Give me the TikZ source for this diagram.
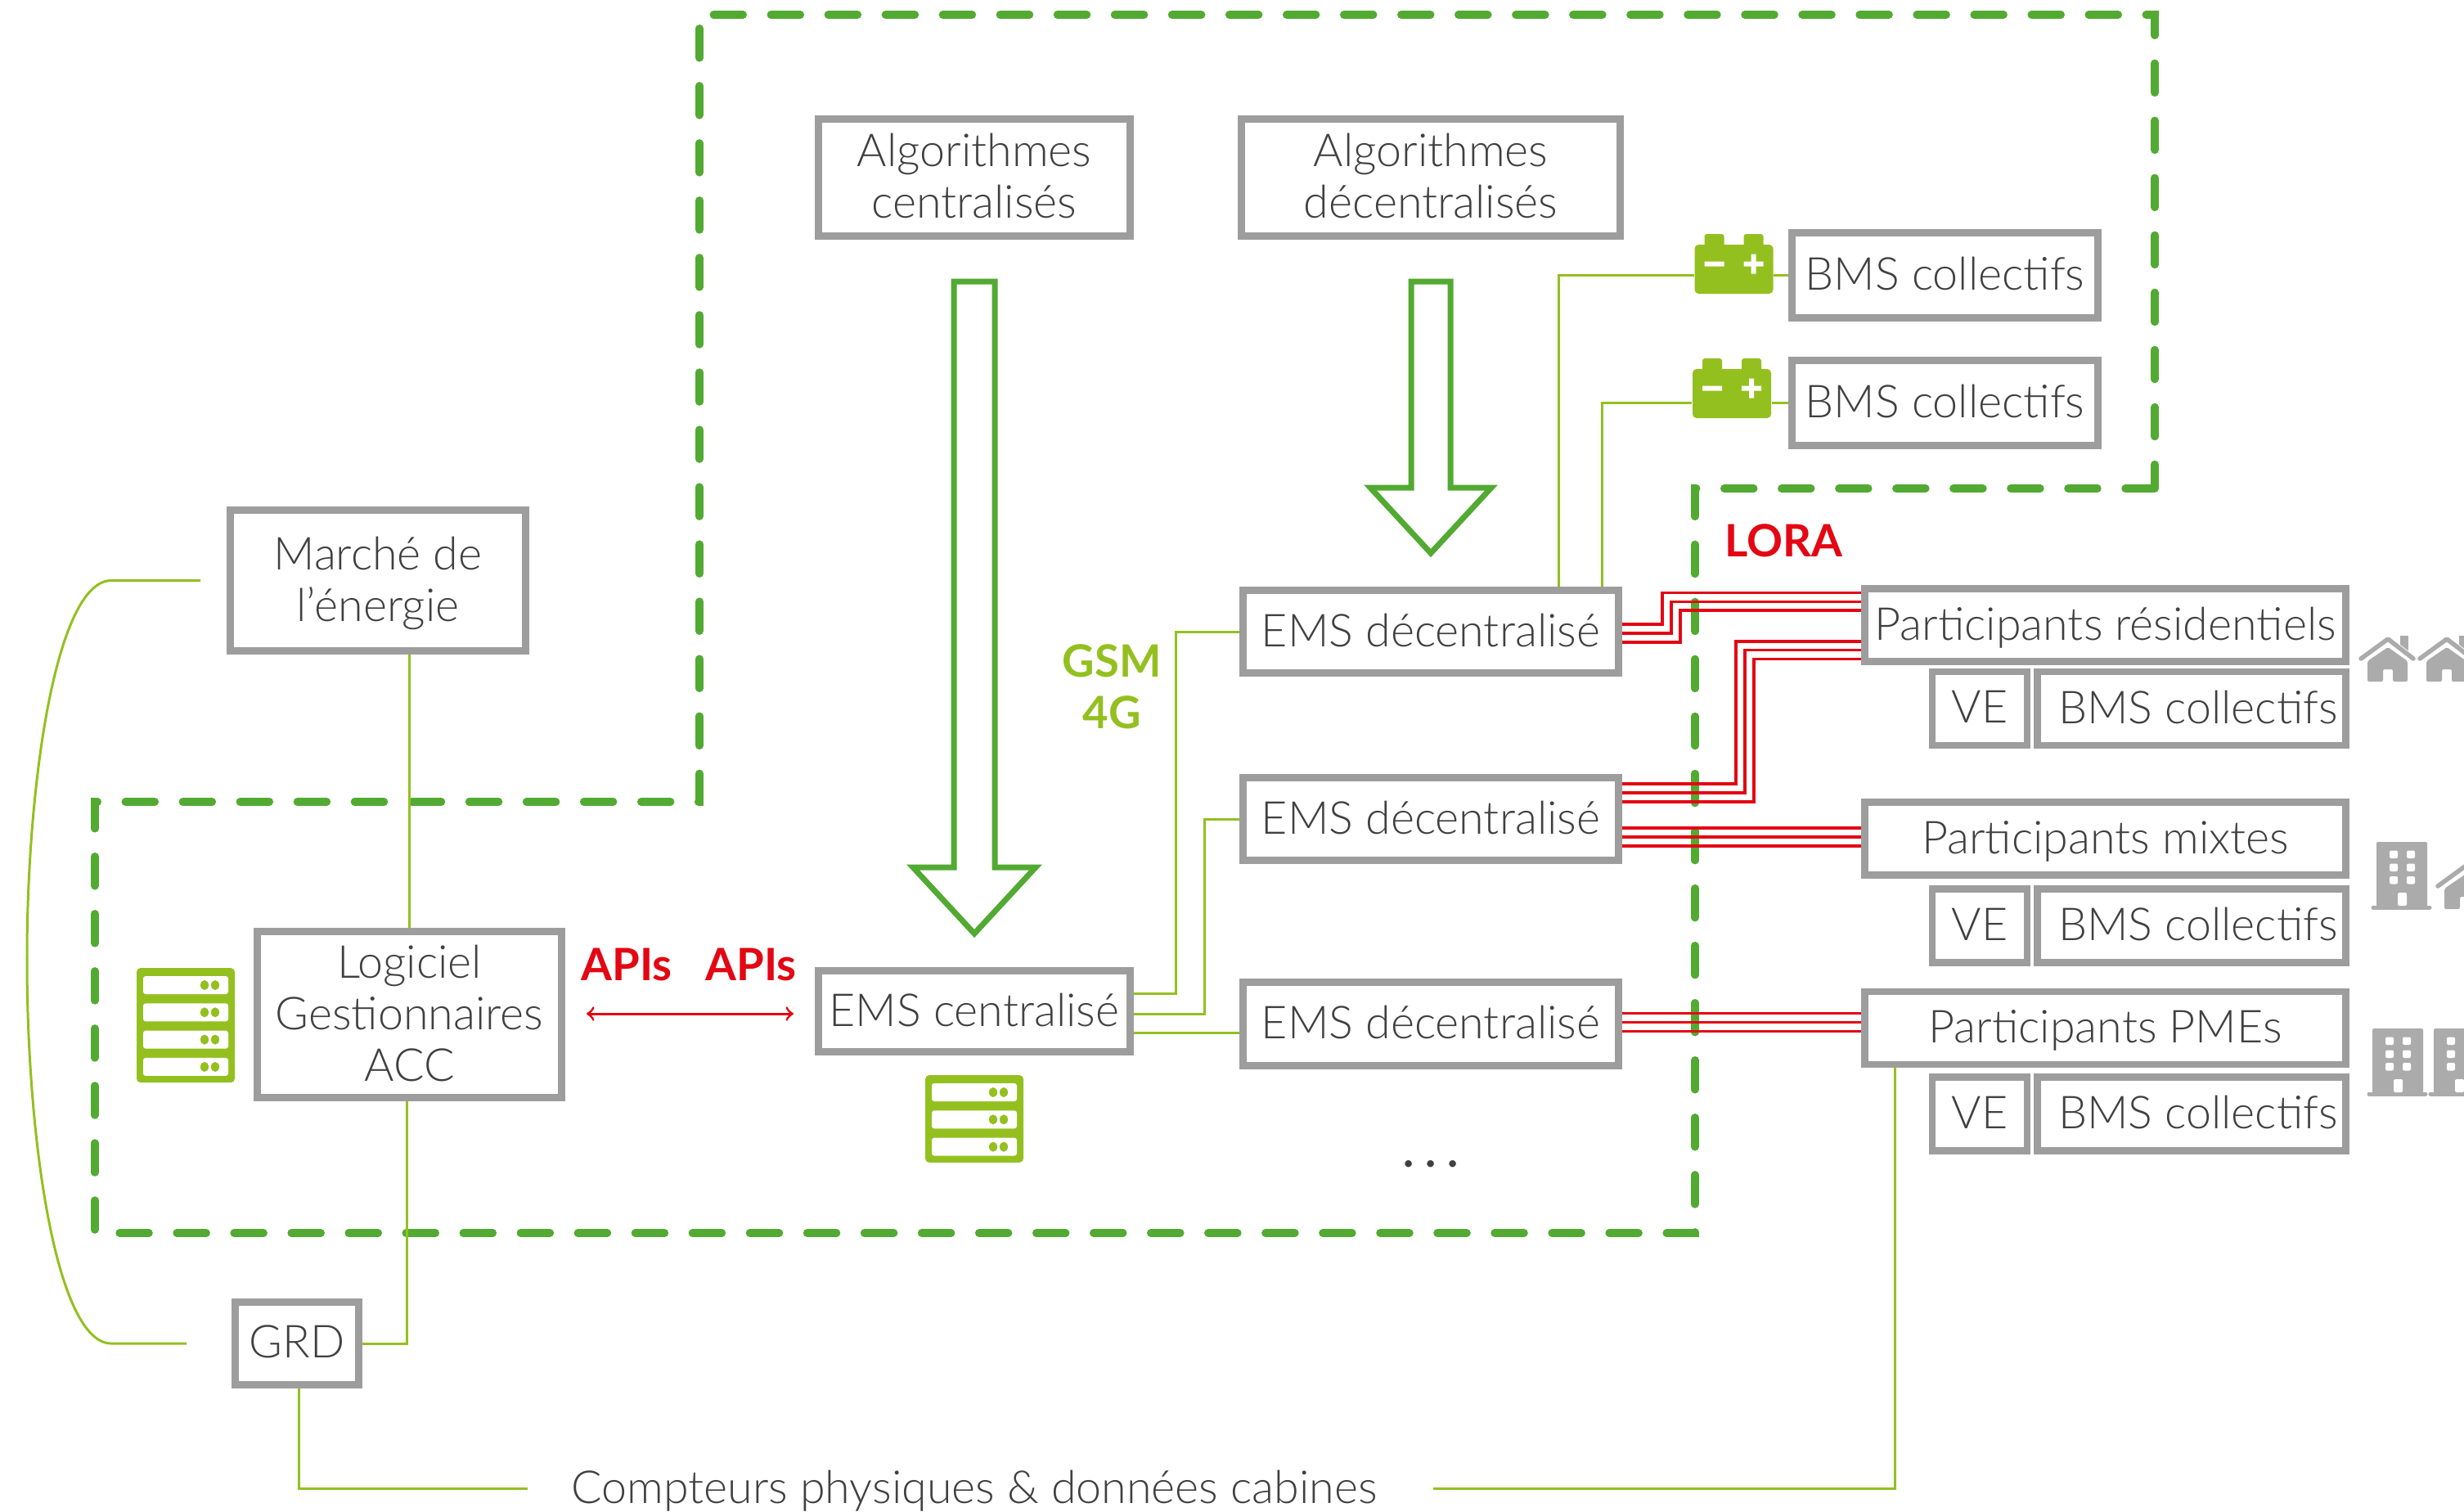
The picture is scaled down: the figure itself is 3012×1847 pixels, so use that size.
\documentclass[tikz,border=0pt]{standalone}
\usepackage{fontspec}
\setmainfont{Lato}[UprightFont=* Light,BoldFont=* Bold]
\usepackage{xcolor}
\usetikzlibrary{calc}
\definecolor{vert}{RGB}{147,192,31}
\definecolor{vertfonce}{RGB}{82,170,50}
\definecolor{gris}{RGB}{157,157,157}
\definecolor{grisicone}{RGB}{171,171,171}
\definecolor{rouge}{RGB}{227,6,19}
\definecolor{texte}{RGB}{64,64,64}
\tikzset{
  boite/.style={draw=gris,line width=0.085cm,text=texte,align=center,inner sep=0pt,text depth=1.1pt,font=\fontsize{15.8}{17.9}\selectfont},
  lien/.style={vert,line width=0.03cm},
  radio/.style={rouge,line width=0.033cm},
  cadre/.style={vertfonce,line width=0.095cm,line cap=round,dash pattern=on 0.36cm off 0.34cm},
  fleche/.style={vertfonce,line width=0.07cm,line join=miter},
  etiquette/.style={font=\fontsize{15.5}{17.9}\selectfont\bfseries,align=center,inner sep=0pt},
}
\newcommand{\serveur}[3]{
  \begin{scope}[shift={(#1,#2)}]
    \fill[vert,rounded corners=0.05cm] (0,0) rectangle (120,{#3*33.3+7});
    \foreach \n in {1,...,#3}{
      \fill[white,rounded corners=0.03cm] (8,{10+33.3*(\n-1)}) rectangle (112,{32+33.3*(\n-1)});
      \fill[vert] (83,{21+33.3*(\n-1)}) ellipse (0.05cm and 0.06cm) (96,{21+33.3*(\n-1)}) ellipse (0.05cm and 0.06cm);
    }
  \end{scope}
}
\newcommand{\batterie}[3]{
  \node[fill=vert,rounded corners=0.05cm,minimum width=0.96cm,minimum height=0.6cm,inner sep=0pt] (#1) at (#2,#3) {};
  \begin{scope}[shift={(#2,#3)}]
    \fill[vert,rounded corners=0.03cm] (-36,-43) rectangle (-12,-20) (12,-43) rectangle (36,-20);
    \fill[white] (-36,-9.5) rectangle (-12,-3.5) (12,-9.5) rectangle (36,-3.5) (21,-18.5) rectangle (27,5.5);
  \end{scope}
}
\newcommand{\maison}[2]{
  \begin{scope}[shift={(#1,#2)}]
    \fill[grisicone] (50.5,0) rectangle (61,20);
    \draw[white,line width=0.09cm] (3,29)--(36,5)--(67,29);
    \draw[grisicone,line width=0.055cm,line cap=round,line join=round] (3,28)--(36,4)--(67,28);
    \fill[grisicone,rounded corners=0.02cm] (11,56)--(11,31)--(36,14)--(60,31)--(60,56)--(42,56)--(42,41)--(30,41)--(30,56)--cycle;
  \end{scope}
}
\newcommand{\immeuble}[2]{
  \begin{scope}[shift={(#1,#2)}]
    \fill[grisicone,rounded corners=0.02cm] (6,0) rectangle (68,82);
    \draw[grisicone,line width=0.05cm,line cap=round] (2,80)--(71,80);
    \foreach \y in {10.5,26.5,42}{
      \fill[white,rounded corners=0.02cm] (22,\y) rectangle (32,\y+9.5) (43,\y) rectangle (53,\y+9.5);
    }
    \fill[white,rounded corners=0.015cm] (32,62) rectangle (43,78);
  \end{scope}
}
\begin{document}
\begin{tikzpicture}[x=0.01cm,y=-0.01cm]
\useasboundingbox (0,0) rectangle (3012,1847);
\clip (0,0) rectangle (3012,1847);
%\draw[help lines,step=1cm](0,0)grid(3012,1847);
% zones
\draw[cadre] (2634,597)--(2072,597)--(2072,1507)--(116,1507)--(116,980)--(855,980)--(855,18)--(2634,18)--cycle;
% boites
\node[boite,minimum width=3.81cm,minimum height=1.43cm] (algc) at (1191,217) {Algorithmes\\centralisés};
\node[boite,minimum width=4.63cm,minimum height=1.43cm] (algd) at (1749,217) {Algorithmes\\décentralisés};
\node[boite,minimum width=3.74cm,minimum height=1.04cm] (bmsa) at (2377.5,336.5) {BMS collectifs};
\node[boite,minimum width=3.74cm,minimum height=1.04cm] (bmsb) at (2377.5,492.5) {BMS collectifs};
\node[boite,minimum width=3.61cm,minimum height=1.72cm] (marche) at (462,709.5) {Marché de\\l'énergie};
\node[boite,minimum width=3.72cm,minimum height=2.03cm] (logi) at (500.5,1240) {Logiciel\\Gestionnaires\\ACC};
\node[boite,minimum width=3.81cm,minimum height=0.99cm] (emsc) at (1191,1236) {EMS centralisé};
\node[boite,minimum width=4.59cm,minimum height=1.01cm] (emsa) at (1749,772) {EMS décentralisé};
\node[boite,minimum width=4.59cm,minimum height=1.01cm] (emsb) at (1749,1001) {EMS décentralisé};
\node[boite,minimum width=4.59cm,minimum height=1.02cm] (emsd) at (1749,1251.5) {EMS décentralisé};
\node[boite,minimum width=1.51cm,minimum height=1.01cm] (grd) at (363,1642) {GRD};
\node[boite,minimum width=5.88cm,minimum height=0.89cm] (resi) at (2573.5,764) {Participants résidentiels};
\node[boite,minimum width=1.16cm,minimum height=0.9cm] (vea) at (2420,866) {VE};
\node[boite,minimum width=3.77cm,minimum height=0.9cm] (bmsc) at (2679,866) {\hspace{0.16cm}BMS collectifs};
\node[boite,minimum width=5.88cm,minimum height=0.89cm] (mixte) at (2573.5,1025) {Participants mixtes};
\node[boite,minimum width=1.16cm,minimum height=0.9cm] (veb) at (2420,1131.5) {VE};
\node[boite,minimum width=3.77cm,minimum height=0.9cm] (bmsd) at (2679,1131.5) {\hspace{0.16cm}BMS collectifs};
\node[boite,minimum width=5.88cm,minimum height=0.89cm] (pme) at (2573.5,1256.5) {Participants PMEs};
\node[boite,minimum width=1.16cm,minimum height=0.9cm] (vec) at (2420,1361.5) {VE};
\node[boite,minimum width=3.77cm,minimum height=0.9cm] (bmse) at (2679,1361.5) {\hspace{0.16cm}BMS collectifs};
\node[text=texte,inner xsep=0.53cm,inner ysep=0pt,text depth=1.1pt,font=\fontsize{15.8}{17.9}\selectfont] (cpt) at (1191,1819) {Compteurs physiques \& données cabines};
% textes
\node[etiquette,text=rouge] (apia) at (766,1179) {APIs};
\node[etiquette,text=rouge] (apib) at (918,1179) {APIs};
\node[etiquette,text=vert] (gsm) at (1359,839) {GSM\\4G};
\node[etiquette,text=rouge] (lora) at (2180,661) {LORA};
\node[text=texte,font=\fontsize{15.8}{17.9}\selectfont\bfseries] (suite) at (1749,1423) {.\hspace{4pt}.\hspace{4pt}.};
% icones
\serveur{167}{1183}{4}
\serveur{1131}{1314}{3}
\batterie{bata}{2119.5}{329}
\batterie{batb}{2117}{481}
\maison{2883}{777}
\maison{2955}{777}
\immeuble{2899}{1029}
\maison{2977}{1055}
\immeuble{2894}{1257}
\immeuble{2969}{1257}
% grandes fleches
\draw[fleche] (1166,344)--(1216,344)--(1216,1060)--(1266,1060)--(1191,1141)--(1116,1060)--(1166,1060)--cycle;
\draw[fleche] (1725,344)--(1773,344)--(1773,596)--(1823,596)--(1749,676)--(1675,596)--(1725,596)--cycle;
% liens
\draw[lien] (logi.north)--(logi.north |- marche.south);
\draw[lien] ($(logi.south)+(-3,0)$) |- (grd.east);
\draw[lien] ($(grd.south)+(2,0)$) |- (cpt.west);
\draw[lien] ($(cpt.east)+(15,0)$) -| ($(pme.south west)+(41,0)$);
\draw[lien] ($(marche.west)+(-32,0)$)--(136,709.5) .. controls (70,709.5) and (33,950) .. (33,1172) .. controls (33,1400) and (70,1642) .. (136,1642)--($(grd.west)+(-55,0)$);
\draw[lien] ($(emsc.east)+(0,-22)$)--++(52,0) |- (emsa.west);
\draw[lien] ($(emsc.east)+(0,3)$)--++(87,0) |- (emsb.west);
\draw[lien] ($(emsc.east)+(0,26)$)--(emsd.west |- {$(emsc.east)+(0,26)$});
\draw[lien] ($(emsa.north west)+(390,0)$) |- (bata.west |- bmsa.west);
\draw[lien] (bata.east |- bmsa.west)--(bmsa.west);
\draw[lien] ($(emsa.north west)+(443,0)$) |- (batb.west |- bmsb.west);
\draw[lien] (batb.east |- bmsb.west)--(bmsb.west);
% liaisons radio
\foreach \i in {0,1,2}{
  \draw[radio] ($(emsa.east)+(0,{-9+11*\i})$)--++({49+11*\i},0) |- ($(resi.west)+(0,{-39.5+10.7*\i})$);
  \draw[radio] ($(emsb.east)+(0,{-43+11*\i})$)--++({139+11*\i},0) |- ($(resi.west)+(0,{20+10.7*\i})$);
  \coordinate (m\i) at ($(mixte.west)+(0,{-13+11*\i})$);
  \draw[radio] (emsb.east |- m\i)--(m\i);
  \coordinate (p\i) at ($(pme.west)+(0,{-18+11*\i})$);
  \draw[radio] (emsd.east |- p\i)--(p\i);
}
\coordinate (apig) at (717,1239);
\coordinate (apid) at (970,1239);
\draw[<->,rouge,line width=0.03cm] (apig)--(apid);
\end{tikzpicture}
\end{document}
